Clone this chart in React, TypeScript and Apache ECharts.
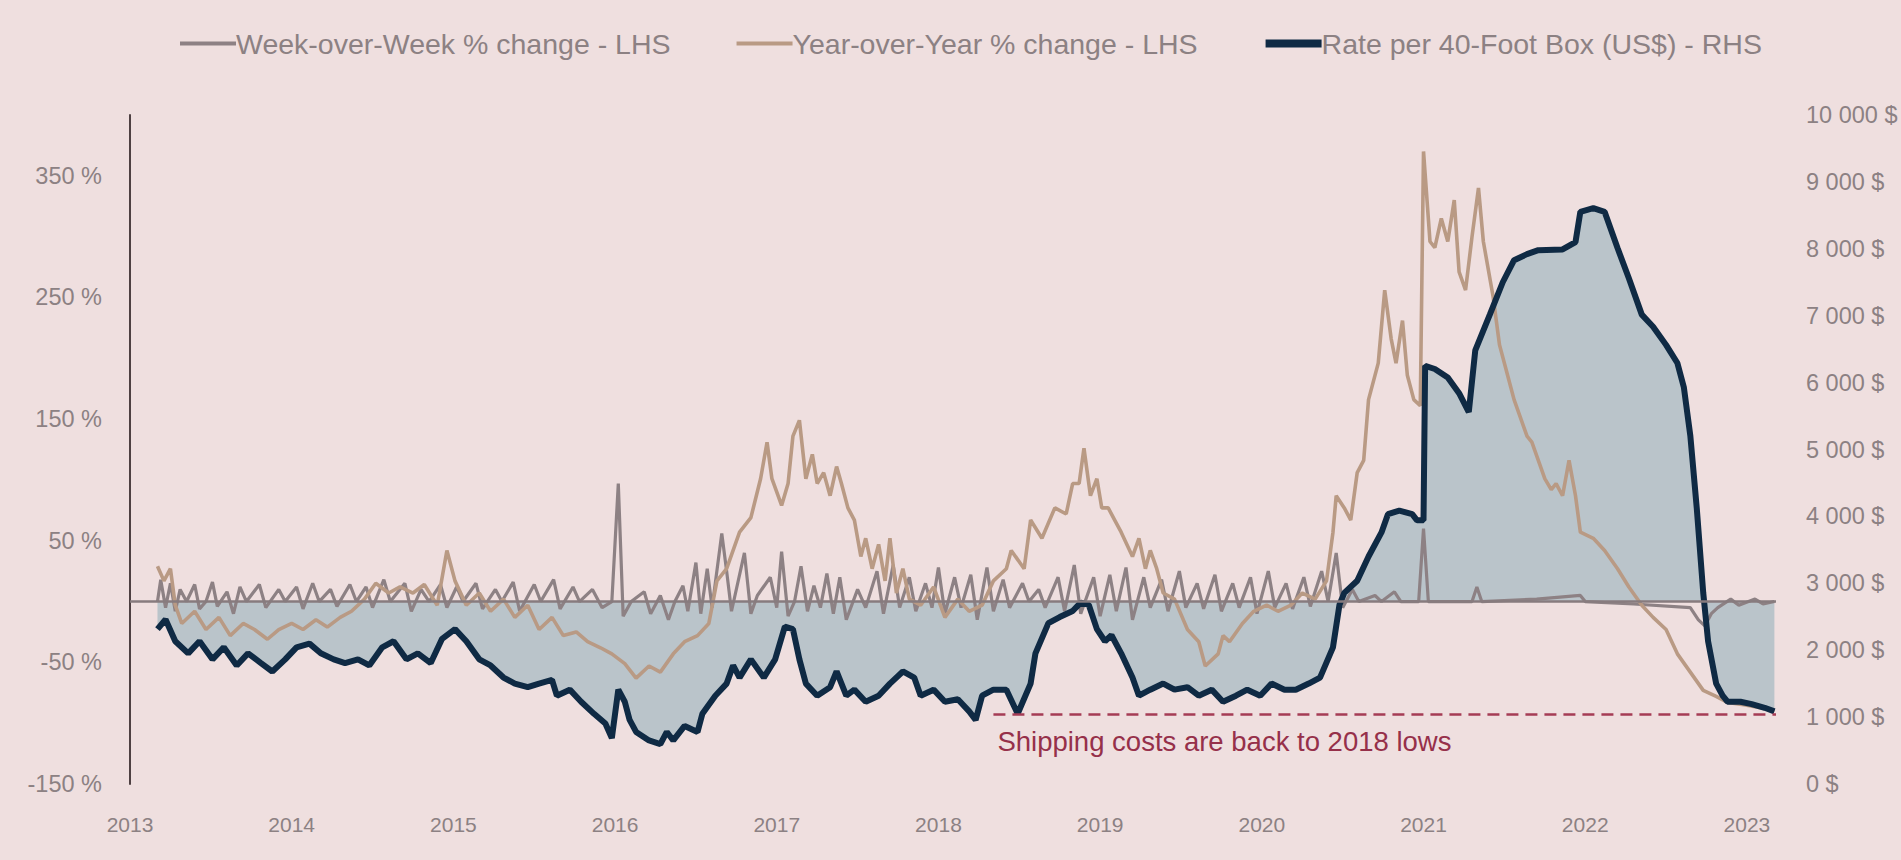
import React, { useEffect, useRef } from "react";
import * as echarts from "echarts";

// ---------- DATA ----------
const seriesNames = [
  "Week-over-Week % change - LHS",
  "Year-over-Year % change - LHS",
  "Rate per 40-Foot Box (US$) - RHS",
];

const yearTicks = [2013, 2014, 2015, 2016, 2017, 2018, 2019, 2020, 2021, 2022, 2023];
const leftTicks = [-150, -50, 50, 150, 250, 350];
const rightTicks = [0, 1000, 2000, 3000, 4000, 5000, 6000, 7000, 8000, 9000, 10000];

// Rate per 40-foot box (US$)
const rateYears = [
  2013.17, 2013.22, 2013.28, 2013.36, 2013.43, 2013.51, 2013.58, 2013.66, 2013.73, 2013.81, 2013.88, 2013.96,
  2014.03, 2014.11, 2014.18, 2014.26, 2014.33, 2014.41, 2014.48, 2014.56, 2014.63, 2014.71, 2014.78, 2014.86, 2014.93,
  2015.01, 2015.08, 2015.16, 2015.23, 2015.31, 2015.38, 2015.46, 2015.53, 2015.61, 2015.64, 2015.72, 2015.79, 2015.87, 2015.94, 2015.98,
  2016.02, 2016.06, 2016.09, 2016.13, 2016.21, 2016.28, 2016.32, 2016.36, 2016.43, 2016.51, 2016.54, 2016.62, 2016.69, 2016.73, 2016.77, 2016.84, 2016.92, 2016.99,
  2017.05, 2017.10, 2017.14, 2017.18, 2017.25, 2017.33, 2017.37, 2017.43, 2017.48, 2017.55, 2017.63, 2017.70, 2017.78, 2017.85, 2017.89, 2017.97,
  2018.04, 2018.12, 2018.19, 2018.23, 2018.27, 2018.34, 2018.42, 2018.49, 2018.57, 2018.60, 2018.68, 2018.75, 2018.83, 2018.88, 2018.93, 2018.98,
  2019.03, 2019.07, 2019.13, 2019.20, 2019.24, 2019.31, 2019.39, 2019.46, 2019.54, 2019.61, 2019.69, 2019.76, 2019.84, 2019.91, 2019.99,
  2020.06, 2020.14, 2020.21, 2020.29, 2020.36, 2020.44, 2020.48, 2020.51, 2020.59, 2020.66, 2020.74, 2020.78, 2020.85, 2020.93, 2020.96, 2021.00,
  2021.01, 2021.07, 2021.15, 2021.22, 2021.28, 2021.32, 2021.41, 2021.49, 2021.56, 2021.64, 2021.71, 2021.86, 2021.94, 2021.97,
  2022.05, 2022.12, 2022.20, 2022.27, 2022.35, 2022.42, 2022.50, 2022.57, 2022.61, 2022.65, 2022.69, 2022.73, 2022.76, 2022.81, 2022.85, 2022.88, 2022.96,
  2023.03, 2023.11, 2023.17,
];
const rateValues = [
  2315, 2459, 2134, 1953, 2134, 1863, 2043, 1772, 1953, 1808, 1682, 1863,
  2043, 2098, 1953, 1863, 1808, 1863, 1772, 2043, 2134, 1863, 1953, 1808, 2170,
  2315, 2134, 1863, 1772, 1591, 1501, 1447, 1501, 1555, 1320, 1410, 1230, 1049, 904, 687,
  1410, 1230, 958, 778, 651, 597, 778, 651, 868, 778, 1049, 1320, 1501, 1772, 1591, 1863, 1591, 1863,
  2351, 2315, 1863, 1501, 1320, 1447, 1682, 1320, 1410, 1230, 1320, 1501, 1682, 1591, 1320, 1410,
  1230, 1266, 1085, 958, 1320, 1410, 1410, 1049, 1501, 1953, 2405, 2495, 2586, 2712, 2676, 2315,
  2134, 2224, 1953, 1591, 1320, 1410, 1501, 1410, 1447, 1320, 1410, 1230, 1320, 1410, 1320,
  1501, 1410, 1410, 1501, 1591, 2043, 2676, 2857, 3038, 3400, 3761, 4033, 4087, 4033, 3942, 3942,
  6250, 6203, 6076, 5841, 5560, 6480, 7016, 7500, 7830, 7920, 7980, 7990, 8101, 8553,
  8608, 8553, 8011, 7559, 7016, 6835, 6564, 6293, 5931, 5208, 4123, 2857, 2134, 1501, 1320, 1230, 1230,
  1193, 1139, 1085,
];

// Year-over-Year % change
const yoyYears = [
  2013.17, 2013.21, 2013.25, 2013.28, 2013.32, 2013.40, 2013.47, 2013.55, 2013.62, 2013.70, 2013.77, 2013.85, 2013.92,
  2014.00, 2014.07, 2014.15, 2014.22, 2014.30, 2014.37, 2014.45, 2014.52, 2014.60, 2014.67, 2014.75, 2014.82, 2014.90, 2014.96,
  2015.01, 2015.08, 2015.16, 2015.23, 2015.31, 2015.38, 2015.46, 2015.53, 2015.61, 2015.68, 2015.76, 2015.83, 2015.91, 2015.98,
  2016.06, 2016.13, 2016.21, 2016.28, 2016.36, 2016.43, 2016.51, 2016.58, 2016.63, 2016.69, 2016.77, 2016.84, 2016.90, 2016.94, 2016.97,
  2017.03, 2017.07, 2017.10, 2017.14, 2017.18, 2017.22, 2017.25, 2017.29, 2017.33, 2017.37, 2017.40, 2017.44, 2017.48, 2017.52, 2017.55,
  2017.59, 2017.63, 2017.67, 2017.70, 2017.74, 2017.78, 2017.82, 2017.89, 2017.97,
  2018.04, 2018.12, 2018.19, 2018.27, 2018.34, 2018.42, 2018.45, 2018.53, 2018.57, 2018.64, 2018.72, 2018.79, 2018.83, 2018.87, 2018.90, 2018.94, 2018.98,
  2019.01, 2019.05, 2019.09, 2019.13, 2019.20, 2019.24, 2019.28, 2019.31, 2019.35, 2019.39, 2019.46, 2019.54, 2019.61, 2019.65, 2019.73, 2019.76, 2019.80, 2019.88, 2019.95,
  2020.03, 2020.10, 2020.18, 2020.25, 2020.33, 2020.40, 2020.44, 2020.46, 2020.51, 2020.55, 2020.59, 2020.63, 2020.66, 2020.72, 2020.74, 2020.76, 2020.80, 2020.83, 2020.87, 2020.90, 2020.94, 2020.98,
  2021.00, 2021.04, 2021.07, 2021.11, 2021.15, 2021.19, 2021.22, 2021.26, 2021.30, 2021.34, 2021.37, 2021.43, 2021.47, 2021.52, 2021.56, 2021.60, 2021.64, 2021.67, 2021.71, 2021.75, 2021.79, 2021.82, 2021.86, 2021.90, 2021.94, 2021.97,
  2022.05, 2022.12, 2022.20, 2022.27, 2022.35, 2022.42, 2022.50, 2022.57, 2022.65, 2022.73, 2022.81, 2022.88, 2022.99,
  2023.11, 2023.17,
];
const yoyValues = [
  29, 17, 27, -3, -18, -8, -23, -13, -28, -18, -23, -31, -23,
  -18, -23, -15, -21, -13, -8, 2, 15, 7, 12, 7, 14, -3, 42,
  17, -3, 7, -8, 2, -13, -3, -23, -13, -28, -25, -33, -38, -43,
  -51, -63, -53, -58, -43, -33, -28, -18, 17, 27, 57, 69, 101, 131, 101,
  79, 97, 136, 149, 101, 121, 97, 106, 87, 111, 97, 77, 67, 37, 52,
  27, 47, 17, 52, 7, 27, 2, -3, 12,
  -13, 2, -8, -3, 17, 27, 42, 27, 67, 52, 77, 72, 97, 97, 126, 87, 101,
  77, 77, 67, 57, 37, 52, 27, 42, 27, 7, 2, -23, -33, -53, -43, -28, -33, -18, -8,
  -3, -8, -3, 7, 2, 17, 57, 87, 77, 67, 106, 116, 166, 196, 226, 256, 216, 196, 231, 186, 166, 161,
  370, 296, 291, 315, 296, 330, 271, 256, 300, 340, 296, 251, 211, 186, 166, 151, 136, 131, 116, 101, 92, 97, 87, 116, 87, 57,
  52, 42, 27, 12, -3, -13, -23, -43, -58, -73, -78, -83, -85,
  -88, -90,
];

// Week-over-Week % change: [year, %]
const wowPoints = [
  [2013.17, 0], [2013.19, 18], [2013.22, -5], [2013.25, 15], [2013.28, -8], [2013.31, 10], [2013.35, 0],
  [2013.40, 14], [2013.43, -6], [2013.47, 0], [2013.51, 16], [2013.54, -4], [2013.60, 8], [2013.64, -10],
  [2013.68, 12], [2013.72, 0], [2013.80, 14], [2013.84, -5], [2013.92, 10], [2013.96, 0],
  [2014.03, 12], [2014.07, -6], [2014.13, 15], [2014.17, 0], [2014.24, 10], [2014.28, -4], [2014.36, 14],
  [2014.40, 0], [2014.46, 12], [2014.50, -5], [2014.57, 18], [2014.61, 0], [2014.70, 15], [2014.74, -8],
  [2014.80, 10], [2014.85, 0], [2014.92, 14], [2014.96, -5],
  [2015.02, 12], [2015.06, 0], [2015.14, 15], [2015.18, -6], [2015.26, 10], [2015.30, 0], [2015.37, 16],
  [2015.41, -8], [2015.50, 14], [2015.54, 0], [2015.62, 18], [2015.66, -6], [2015.74, 12], [2015.78, 0],
  [2015.86, 10], [2015.92, -5], [2015.98, 0],
  [2016.02, 97], [2016.05, -12], [2016.10, 0], [2016.18, 8], [2016.22, -10], [2016.28, 5], [2016.33, -15],
  [2016.37, 0], [2016.42, 13], [2016.45, -8], [2016.50, 32], [2016.53, -10], [2016.57, 27], [2016.60, -5],
  [2016.66, 56], [2016.69, 25], [2016.72, -8], [2016.80, 40], [2016.84, -10], [2016.88, 5], [2016.96, 20],
  [2017.00, -5], [2017.03, 41], [2017.07, -12], [2017.11, 0], [2017.15, 29], [2017.19, -8], [2017.23, 13],
  [2017.27, -5], [2017.31, 23], [2017.35, -10], [2017.39, 20], [2017.43, -15], [2017.50, 10], [2017.55, -5],
  [2017.62, 25], [2017.66, -10], [2017.72, 30], [2017.76, -5], [2017.82, 20], [2017.86, -8], [2017.92, 15],
  [2017.96, -5],
  [2018.00, 28], [2018.04, -10], [2018.10, 20], [2018.14, -5], [2018.20, 22], [2018.24, -15], [2018.30, 28],
  [2018.34, -8], [2018.40, 18], [2018.44, -5], [2018.52, 15], [2018.56, 0], [2018.62, 10], [2018.66, -5],
  [2018.74, 20], [2018.78, -8], [2018.84, 30], [2018.88, -10], [2018.96, 20],
  [2019.00, -12], [2019.06, 22], [2019.10, -8], [2019.16, 28], [2019.20, -15], [2019.27, 20], [2019.31, -5],
  [2019.38, 18], [2019.42, -8], [2019.49, 25], [2019.53, -5], [2019.60, 15], [2019.64, -6], [2019.71, 22],
  [2019.75, -8], [2019.82, 15], [2019.86, -5], [2019.93, 20], [2019.97, -10],
  [2020.04, 25], [2020.08, -5], [2020.15, 15], [2020.19, -6], [2020.26, 20], [2020.30, -4], [2020.37, 25],
  [2020.41, 0], [2020.46, 40], [2020.50, -5], [2020.56, 10], [2020.60, 0], [2020.70, 5], [2020.74, 0],
  [2020.82, 8], [2020.86, 0], [2020.97, 0],
  [2021.00, 60], [2021.03, 0], [2021.30, 0], [2021.33, 12], [2021.36, 0], [2021.70, 2], [2021.97, 5],
  [2022.00, 0], [2022.30, -2], [2022.65, -5], [2022.70, -15], [2022.74, -20], [2022.78, -10], [2022.82, -5],
  [2022.90, 2], [2022.95, -3], [2023.05, 2], [2023.10, -2], [2023.17, 0],
];

// Annotation
const noteText = "Shipping costs are back to 2018 lows";
const noteStartYear = 2018.34;
const noteEndYear = 2023.18;
const noteLevel = 1050;

// ---------- STYLE ----------
const FONT = "'Liberation Sans', Arial, Helvetica, sans-serif";
const BG = "#efdfdf";
const LABEL = "#8c8183";
const WOW_COLOR = "#8d8184";
const YOY_COLOR = "#b99a84";
const RATE_COLOR = "#0f2a44";
const FILL = "#bac4ca";

const xMin = 2013;
const xMax = 2023.18;
const leftMin = -150;
const leftMax = 400;
const rightMin = 0;
const rightMax = 10000;
const zeroOnRight = rightMin + ((0 - leftMin) / (leftMax - leftMin)) * (rightMax - rightMin);

export default function App() {
  const ref = useRef<HTMLDivElement>(null);

  useEffect(() => {
    document.body.style.margin = "0";
    document.body.style.background = BG;
    if (!ref.current) return;
    const chart = echarts.init(ref.current, null, { renderer: "svg" });

    const ratePairs = rateYears.map((y, i) => [y, rateValues[i]]);
    const yoyPairs = yoyYears.map((y, i) => [y, yoyValues[i]]);

    const option = {
      animation: false,
      backgroundColor: BG,
      textStyle: { fontFamily: FONT },
      grid: { left: 130, right: 125, top: 115, bottom: 860 - 784, containLabel: false },
      legend: {
        top: 29,
        left: 178,
        itemWidth: 56,
        itemHeight: 14,
        itemGap: 64,
        padding: 0,
        textStyle: { color: LABEL, fontSize: 28.5, fontFamily: FONT, padding: [0, 0, 0, -5] },
        data: [
          { name: seriesNames[0], lineStyle: { width: 4, color: WOW_COLOR }, itemStyle: { opacity: 0 } },
          { name: seriesNames[1], lineStyle: { width: 4, color: YOY_COLOR }, itemStyle: { opacity: 0 } },
          { name: seriesNames[2], lineStyle: { width: 8, color: RATE_COLOR }, itemStyle: { opacity: 0 } },
        ],
      },
      xAxis: {
        type: "value",
        min: xMin,
        max: xMax,
        interval: 1,
        axisLine: { show: false },
        axisTick: { show: false },
        splitLine: { show: false },
        axisLabel: {
          color: LABEL,
          fontSize: 21,
          fontFamily: FONT,
          margin: 30,
          formatter: (v: number) => (yearTicks.includes(Math.round(v * 1000) / 1000) ? String(v) : ""),
        },
      },
      yAxis: [
        {
          type: "value",
          position: "left",
          min: leftMin,
          max: leftMax,
          interval: 100,
          axisLine: { show: true, lineStyle: { color: "#4e4042", width: 2 } },
          axisTick: { show: false },
          splitLine: { show: false },
          axisLabel: {
            color: LABEL,
            fontSize: 23.5,
            fontFamily: FONT,
            margin: 28,
            formatter: (v: number) => (leftTicks.includes(v) ? `${v} %` : ""),
          },
        },
        {
          type: "value",
          position: "right",
          min: rightMin,
          max: rightMax,
          interval: 1000,
          axisLine: { show: false },
          axisTick: { show: false },
          splitLine: { show: false },
          axisLabel: {
            color: LABEL,
            fontSize: 23.5,
            fontFamily: FONT,
            margin: 30,
            formatter: (v: number) =>
              rightTicks.includes(v) ? (v === 0 ? "0 $" : `${v / 1000} 000 $`) : "",
          },
        },
      ],
      series: [
        {
          name: "rateArea",
          type: "line",
          yAxisIndex: 1,
          data: ratePairs,
          symbol: "none",
          silent: true,
          z: 1,
          lineStyle: { width: 0, opacity: 0 },
          areaStyle: { color: FILL, opacity: 1, origin: zeroOnRight },
        },
        {
          name: seriesNames[0],
          type: "line",
          yAxisIndex: 0,
          data: wowPoints,
          symbol: "none",
          z: 2,
          color: WOW_COLOR,
          lineStyle: { color: WOW_COLOR, width: 3.2 },
          markLine: {
            silent: true,
            symbol: ["none", "none"],
            label: { show: false },
            lineStyle: { color: "#877b7e", width: 2.5, type: "solid" },
            data: [{ yAxis: 0 }],
          },
        },
        {
          name: seriesNames[1],
          type: "line",
          yAxisIndex: 0,
          data: yoyPairs,
          symbol: "none",
          z: 3,
          color: YOY_COLOR,
          lineStyle: { color: YOY_COLOR, width: 3.6 },
        },
        {
          name: seriesNames[2],
          type: "line",
          yAxisIndex: 1,
          data: ratePairs,
          symbol: "none",
          z: 4,
          color: RATE_COLOR,
          lineStyle: { color: RATE_COLOR, width: 6 },
          markLine: {
            silent: true,
            symbol: ["none", "none"],
            lineStyle: { color: "#a53c55", width: 2.5, type: [12, 7] },
            label: {
              show: true,
              position: "insideStartBottom",
              formatter: noteText,
              color: "#96304a",
              fontSize: 27.5,
              fontFamily: FONT,
              distance: [4, 14],
            },
            data: [[{ coord: [noteStartYear, noteLevel] }, { coord: [noteEndYear, noteLevel] }]],
          },
        },
      ],
    };

    chart.setOption(option as any);
    return () => chart.dispose();
  }, []);

  return <div ref={ref} style={{ width: 1901, height: 860, background: BG }} />;
}
